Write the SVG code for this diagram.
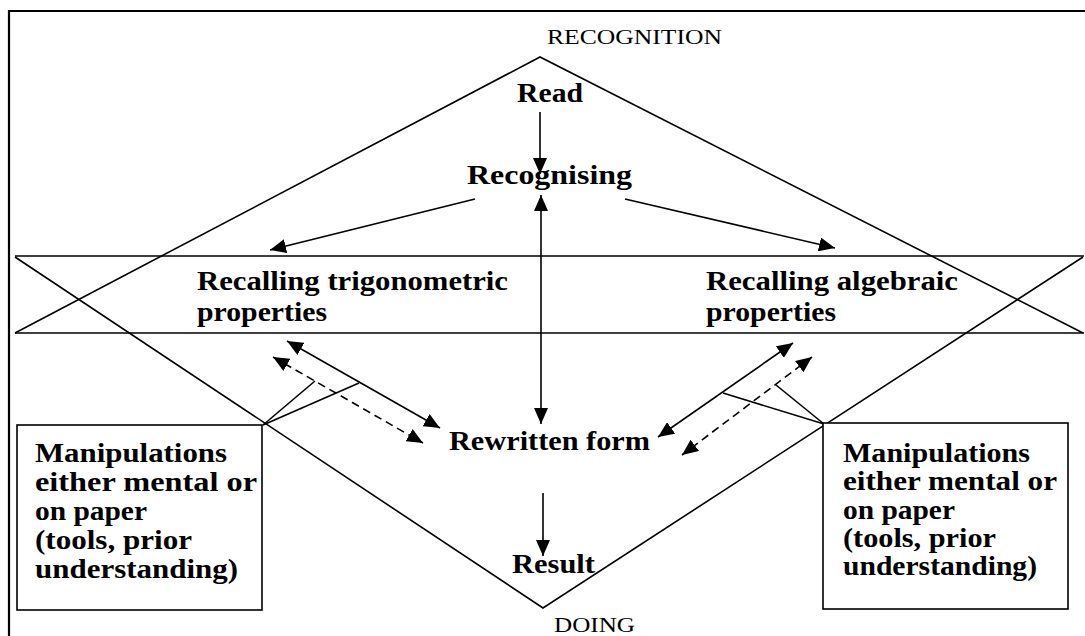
<svg xmlns="http://www.w3.org/2000/svg" width="1085" height="636" viewBox="0 0 1085 636">
<style>
.bg{fill:#fff}
.ln{stroke:#000;stroke-width:1.6;fill:none}
.frame{stroke:#000;stroke-width:2.2;fill:none}
.box{stroke:#000;stroke-width:1.6;fill:#fff}
.lbl{font-family:"Liberation Serif","Times New Roman",serif;font-weight:bold;font-size:27px;fill:#000}
.cap{font-family:"Liberation Serif","Times New Roman",serif;font-size:21px;fill:#000}
.arr{stroke:#000;stroke-width:1.6;fill:none;marker-end:url(#ah)}
.darr{stroke:#000;stroke-width:1.6;fill:none;marker-end:url(#ah);marker-start:url(#ah)}
.dash{stroke-dasharray:8,5}
</style>
<defs>
<marker id="ah" viewBox="0 0 16 14" refX="16" refY="7" markerWidth="16" markerHeight="14" markerUnits="userSpaceOnUse" orient="auto-start-reverse">
<path d="M0,0 L16,7 L0,14 z" fill="#000"/>
</marker>
</defs>
<rect class="bg" x="0" y="0" width="1085" height="636"/>
<g id="frame">
<path class="frame" d="M9,636 L9,11 L1085,11"/>
</g>
<g id="shapes">
<path class="ln" d="M15,333 L540,57 L1083,333"/>
<path class="ln" d="M15,257 L543,608 L1083,257"/>
<line class="ln" x1="15" y1="256" x2="1084" y2="256"/>
<line class="ln" x1="15" y1="333" x2="1084" y2="333"/>
</g>
<g id="connectors">
<line class="arr" x1="540" y1="112" x2="540" y2="174"/>
<line class="darr" x1="541" y1="195" x2="541" y2="424"/>
<line class="arr" x1="543" y1="493" x2="543" y2="556"/>
<line class="arr" x1="475" y1="199" x2="270" y2="250"/>
<line class="arr" x1="625" y1="199" x2="835" y2="248"/>
<line class="darr" x1="287" y1="341" x2="440" y2="428"/>
<line class="darr dash" x1="273" y1="357" x2="423" y2="443"/>
<line class="darr" x1="793" y1="343" x2="658" y2="437"/>
<line class="darr dash" x1="812" y1="357" x2="682" y2="455"/>
<line class="ln" x1="263" y1="425" x2="315" y2="381"/>
<line class="ln" x1="263" y1="425" x2="359" y2="383"/>
<line class="ln" x1="824" y1="424" x2="723" y2="393"/>
<line class="ln" x1="824" y1="424" x2="776" y2="385"/>
</g>
<g id="recognition"><text class="cap" x="547" y="44" textLength="175" lengthAdjust="spacingAndGlyphs">RECOGNITION</text></g>
<g id="read"><text class="lbl" x="517" y="102" textLength="66" lengthAdjust="spacingAndGlyphs">Read</text></g>
<g id="recognising"><text class="lbl" x="467" y="184" textLength="165" lengthAdjust="spacingAndGlyphs">Recognising</text></g>
<g id="recall-trig">
<text class="lbl" x="197" y="290" textLength="311" lengthAdjust="spacingAndGlyphs">Recalling trigonometric</text>
<text class="lbl" x="197" y="321" textLength="130" lengthAdjust="spacingAndGlyphs">properties</text>
</g>
<g id="recall-alg">
<text class="lbl" x="706" y="290" textLength="252" lengthAdjust="spacingAndGlyphs">Recalling algebraic</text>
<text class="lbl" x="706" y="321" textLength="130" lengthAdjust="spacingAndGlyphs">properties</text>
</g>
<g id="rewritten"><text class="lbl" x="449" y="450" textLength="201" lengthAdjust="spacingAndGlyphs">Rewritten form</text></g>
<g id="result"><text class="lbl" x="512" y="573" textLength="83" lengthAdjust="spacingAndGlyphs">Result</text></g>
<g id="doing"><text class="cap" x="554" y="632" textLength="81" lengthAdjust="spacingAndGlyphs">DOING</text></g>
<g id="box-left">
<rect class="box" x="17" y="425" width="245" height="185"/>
<text class="lbl" x="35" y="462" textLength="192" lengthAdjust="spacingAndGlyphs">Manipulations</text>
<text class="lbl" x="35" y="491" textLength="222" lengthAdjust="spacingAndGlyphs">either mental or</text>
<text class="lbl" x="35" y="520" textLength="112" lengthAdjust="spacingAndGlyphs">on paper</text>
<text class="lbl" x="35" y="549" textLength="157" lengthAdjust="spacingAndGlyphs">(tools, prior</text>
<text class="lbl" x="35" y="578" textLength="203" lengthAdjust="spacingAndGlyphs">understanding)</text>
</g>
<g id="box-right">
<rect class="box" x="823" y="423" width="245" height="186"/>
<text class="lbl" x="843" y="462" textLength="187" lengthAdjust="spacingAndGlyphs">Manipulations</text>
<text class="lbl" x="843" y="490" textLength="214" lengthAdjust="spacingAndGlyphs">either mental or</text>
<text class="lbl" x="843" y="519" textLength="112" lengthAdjust="spacingAndGlyphs">on paper</text>
<text class="lbl" x="843" y="547" textLength="153" lengthAdjust="spacingAndGlyphs">(tools, prior</text>
<text class="lbl" x="843" y="575" textLength="194" lengthAdjust="spacingAndGlyphs">understanding)</text>
</g>
</svg>
